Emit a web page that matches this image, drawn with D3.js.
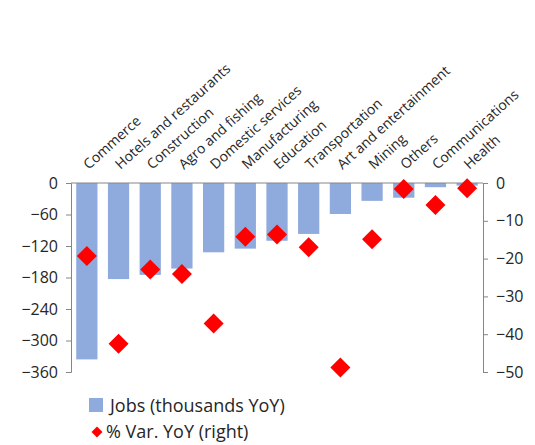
<!DOCTYPE html>
<html>
<head>
<meta charset="utf-8">
<script src="https://cdn.jsdelivr.net/npm/d3@7"></script>
<style>
  body { margin: 0; background: #fff; }
  text { font-family: "Open Sans", sans-serif; fill: #262626; }
  .axis path, .axis line { stroke: #868686; }
</style>
</head>
<body>
<div id="chart"></div>
<script>
// data
var sectors = ["Commerce", "Hotels and restaurants", "Construction", "Agro and fishing",
    "Domestic services", "Manufacturing", "Education", "Transportation",
    "Art and entertainment", "Mining", "Others", "Communications", "Health"];
var jobs = [-336, -183, -175, -163, -132, -125, -110, -97, -59, -34, -28, -8, -5];
var pctVar = [-19.3, -42.5, -22.9, -24.1, -37.2, -14.2, -13.6, -17.0, -48.8, -14.9, -1.6, -5.8, -1.4];
var leftTicks = [0, -60, -120, -180, -240, -300, -360];
var rightTicks = [0, -10, -20, -30, -40, -50];

function createChart() {
    var w = 535, h = 445;
    var left = 71, right = 483, top = 183, bottom = 372;

    var svg = d3.select("#chart").append("svg")
        .attr("width", w)
        .attr("height", h);

    var x = d3.scaleBand()
        .domain(sectors)
        .range([left, right])
        .paddingInner(0.33)
        .paddingOuter(0.165);

    var yLeft = d3.scaleLinear().domain([-360, 0]).range([bottom, top]);
    var yRight = d3.scaleLinear().domain([-50, 0]).range([bottom, top]);

    /* BARS */
    svg.selectAll("rect.bar")
        .data(jobs)
        .enter()
        .append("rect")
        .attr("class", "bar")
        .attr("x", (d, i) => x(sectors[i]))
        .attr("y", yLeft(0))
        .attr("width", x.bandwidth())
        .attr("height", d => yLeft(d) - yLeft(0))
        .attr("fill", "#8faadc");

    /* AXES */
    svg.append("g")
        .attr("class", "axis")
        .attr("transform", "translate(" + left + ",0)")
        .call(d3.axisLeft(yLeft).tickValues(leftTicks).tickSize(5).tickPadding(8))
        .call(g => g.selectAll("text").style("font-size", "16px").attr("fill", "#262626"));

    svg.append("g")
        .attr("class", "axis")
        .attr("transform", "translate(" + right + ",0)")
        .call(d3.axisRight(yRight).tickValues(rightTicks).tickSize(5).tickPadding(8))
        .call(g => g.selectAll("text").style("font-size", "16px").attr("fill", "#262626"));

    // zero line with category labels
    svg.append("line")
        .attr("x1", left).attr("x2", right)
        .attr("y1", yLeft(0)).attr("y2", yLeft(0))
        .attr("stroke", "#868686");

    svg.selectAll("text.cat")
        .data(sectors)
        .enter()
        .append("text")
        .attr("class", "cat")
        .attr("transform", d => "translate(" + (x(d) + x.bandwidth() / 2 + 2) + "," + (yLeft(0) - 13) + ") rotate(-42)")
        .style("font-size", "14px")
        .text(d => d);

    /* DIAMONDS */
    var diamond = d3.symbol().type(d3.symbolSquare).size(200);
    svg.selectAll("path.pt")
        .data(pctVar)
        .enter()
        .append("path")
        .attr("class", "pt")
        .attr("d", diamond)
        .attr("transform", (d, i) => "translate(" + (x(sectors[i]) + x.bandwidth() / 2) + "," + yRight(d) + ") rotate(45)")
        .attr("fill", "#ff0000");

    /* LEGEND */
    svg.append("rect")
        .attr("x", 89).attr("y", 398)
        .attr("width", 14).attr("height", 14)
        .attr("fill", "#8faadc");
    svg.append("text")
        .attr("x", 110).attr("y", 412)
        .style("font-size", "18px")
        .text("Jobs (thousands YoY)");

    svg.append("path")
        .attr("d", d3.symbol().type(d3.symbolSquare).size(60))
        .attr("transform", "translate(97,432) rotate(45)")
        .attr("fill", "#ff0000");
    svg.append("text")
        .attr("x", 106).attr("y", 438)
        .style("font-size", "18px")
        .text("% Var. YoY (right)");
}

createChart();
</script>
</body>
</html>
